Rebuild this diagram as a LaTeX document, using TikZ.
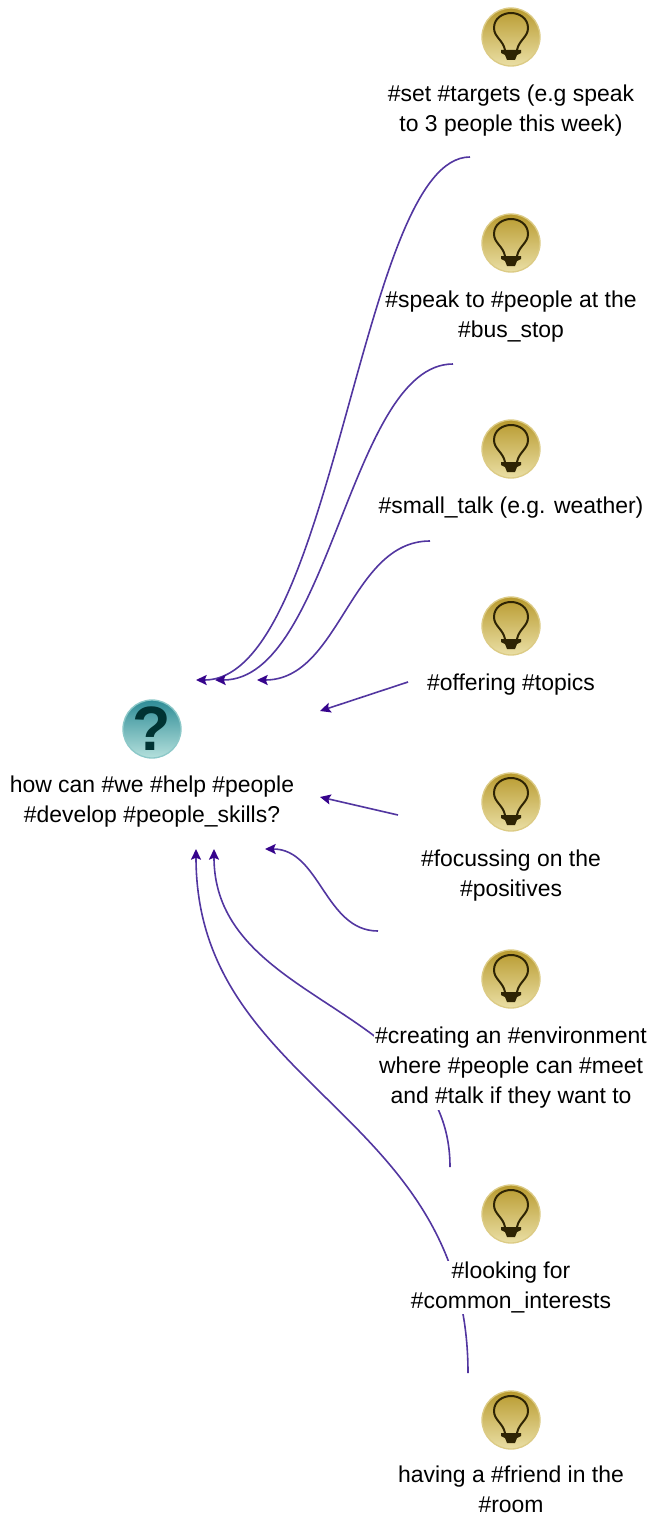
\documentclass[tikz,border=0pt]{standalone}
\usepackage{fontspec}
\setmainfont{Liberation Sans}
\usetikzlibrary{positioning,arrows.meta,backgrounds}
\definecolor{linkcol}{HTML}{5236A0}
\definecolor{tipcol}{HTML}{36048C}
\definecolor{goldtop}{HTML}{B89A2E}
\definecolor{goldbot}{HTML}{EADFA5}
\definecolor{goldrim}{HTML}{DCCB85}
\definecolor{tealtop}{HTML}{2E8C96}
\definecolor{tealbot}{HTML}{B4E0DC}
\definecolor{tealrim}{HTML}{8CC8C8}
\definecolor{glyph}{HTML}{2E2404}
\begin{document}
\begin{tikzpicture}[x=0.75pt,y=-0.75pt,
        bulb/.style={circle,minimum size=43.5pt,inner sep=0pt,draw=goldrim,
            line width=1pt,top color=goldtop,bottom color=goldbot,
            path picture={
                \draw[shift={(path picture bounding box.center)},line width=1.5pt,color=glyph]
                    (-6,13) .. controls (-8,3) and (-17,0) .. (-17,-9)
                    .. controls (-17,-19) and (-8,-24) .. (0,-24)
                    .. controls (8,-24) and (17,-19) .. (17,-9)
                    .. controls (17,0) and (8,3) .. (6,13);
                \fill[shift={(path picture bounding box.center)},color=glyph]
                    (-10,13) -- (10,13) -- (10,16) -- (6,18) -- (4,23) -- (-4,23) -- (-6,18) -- (-10,16) -- cycle;
            }},
        ask/.style={circle,minimum size=43.5pt,inner sep=0pt,draw=tealrim,line width=1pt,
            top color=tealtop,bottom color=tealbot},
        qmark/.style={inner sep=0pt,font=\fontsize{47pt}{47pt}\selectfont\bfseries,text=teal!40!black},
        txt/.style={align=center,fill=white,inner sep=1pt,font=\fontsize{17.2pt}{22.5pt}\selectfont,
            text=black},
        link/.style={color=linkcol,line width=1.2pt,-{Stealth[length=8pt,width=7.5pt,inset=1.5pt,color=tipcol]}}]
\useasboundingbox (0,0) rectangle (650,1516);

\node[ask] (question) at (152,729) {};
\node[qmark] (mark) at (152,729) {?};
\node[txt,below=11.5pt of question] (questiontxt) {how can \#we \#help \#people\\\#develop \#people\_skills?};

\node[bulb] (targets) at (511,37) {};
\node[txt,below=12.5pt of targets] (targetstxt) {\#set \#targets (e.g speak\\to 3 people this week)};
\node[bulb] (speak) at (511,243) {};
\node[txt,below=12.5pt of speak] (speaktxt) {\#speak to \#people at the\\\#bus\_stop};
\node[bulb] (small) at (511,449) {};
\node[txt,below=12.5pt of small] (smalltxt) {\#small\_talk (e.g. weather)};
\node[bulb] (topics) at (511,626) {};
\node[txt,below=12.5pt of topics] (topicstxt) {\#offering \#topics};
\node[bulb] (positives) at (511,802) {};
\node[txt,below=12.5pt of positives] (positivestxt) {\#focussing on the\\\#positives};
\node[bulb] (environment) at (511,979) {};
\node[txt,below=12.5pt of environment] (environmenttxt) {\#creating an \#environment\\where \#people can \#meet\\and \#talk if they want to};
\node[bulb] (interests) at (511,1214) {};
\node[txt,below=12.5pt of interests] (intereststxt) {\#looking for\\\#common\_interests};
\node[bulb] (friend) at (511,1420) {};
\node[txt,below=11pt of friend] (friendtxt) {having a \#friend in the\\\#room};

% free ends of the links
\coordinate (targetsout) at (470,157);
\coordinate (speakout) at (453,364);
\coordinate (smallout) at (430,541);
\coordinate (topicsout) at (408,682);
\coordinate (positivesout) at (398,815);
\coordinate (environmentout) at (378,931);
\coordinate (interestsout) at (450,1167);
\coordinate (friendout) at (468,1373);
\coordinate (targetsin) at (196,680);
\coordinate (speakin) at (215,680);
\coordinate (smallin) at (257,680);
\coordinate (topicsin) at (320,711);
\coordinate (positivesin) at (320,797);
\coordinate (environmentin) at (265,849);
\coordinate (interestsin) at (214,849);
\coordinate (friendin) at (196,849);

\begin{scope}[on background layer]
\draw[link] (targetsout) .. controls (360,157) and (335,680) .. (targetsin);
\draw[link] (speakout) .. controls (350,364) and (330,680) .. (speakin);
\draw[link] (smallout) .. controls (350,541) and (340,680) .. (smallin);
\draw[link] (topicsout) -- (topicsin);
\draw[link] (positivesout) -- (positivesin);
\draw[link] (environmentout) .. controls (325,931) and (320,849) .. (environmentin);
\draw[link] (interestsout) .. controls (450,1005) and (214,1005) .. (interestsin);
\draw[link] (friendout) .. controls (468,1110) and (196,1090) .. (friendin);
\end{scope}
\end{tikzpicture}
\end{document}
